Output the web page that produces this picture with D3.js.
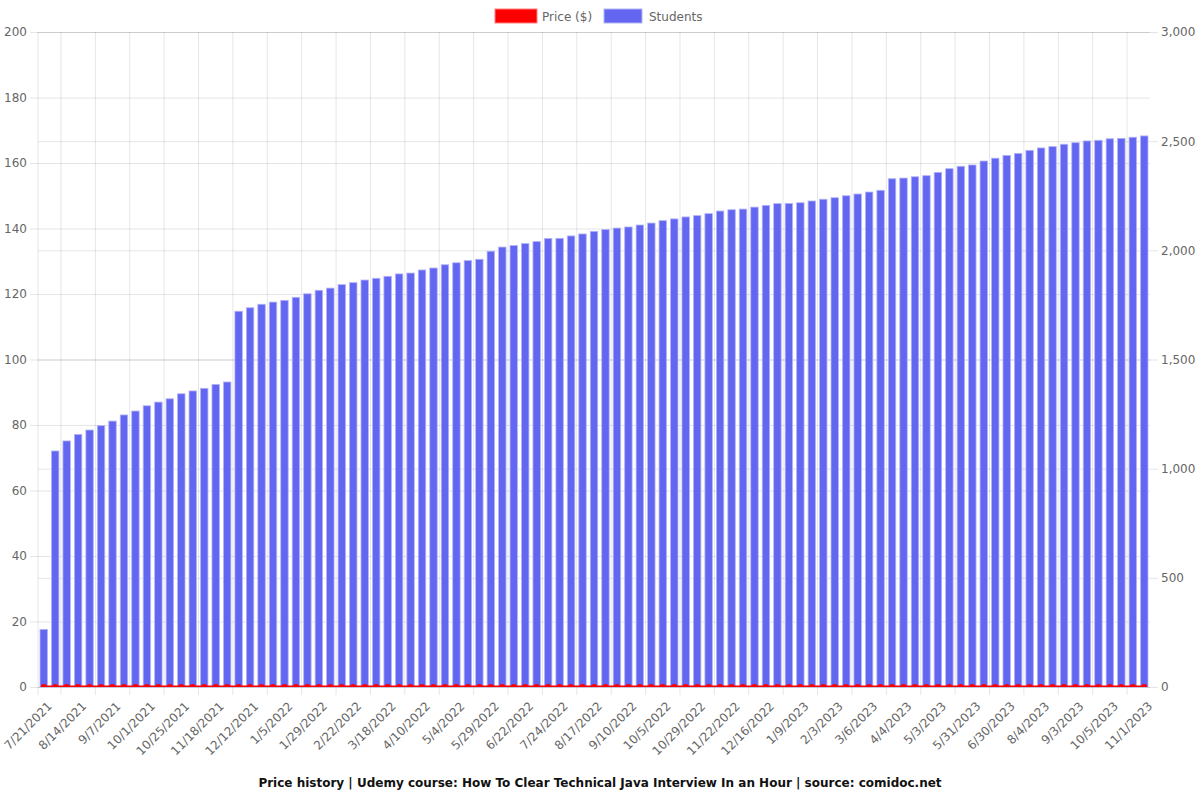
<!DOCTYPE html>
<html>
<head>
<meta charset="utf-8">
<script src="https://cdn.jsdelivr.net/npm/d3@7"></script>
<style>
  body { margin: 0; background: #fff; }
  svg text { font-family: "DejaVu Sans", sans-serif; }
  .axis path { display: none; }
  .axis line { stroke: rgba(0,0,0,0.1); }
  .axis text { fill: #666; font-size: 12px; }
  .grid path { display: none; }
  .grid line { stroke: rgba(0,0,0,0.1); }
</style>
</head>
<body>
<div id="vis"></div>
<script>
// declare constants
const FRAME_WIDTH = 1200;
const FRAME_HEIGHT = 800;
const MARGINS = {left: 38, right: 50, top: 32, bottom: 113};
const VIS_WIDTH = FRAME_WIDTH - MARGINS.left - MARGINS.right;
const VIS_HEIGHT = FRAME_HEIGHT - MARGINS.top - MARGINS.bottom;

// data
const dates = [
  "7/21/2021","7/29/2021","8/6/2021","8/14/2021","8/22/2021","8/30/2021",
  "9/7/2021","9/15/2021","9/23/2021","10/1/2021","10/9/2021","10/17/2021",
  "10/25/2021","11/2/2021","11/10/2021","11/18/2021","11/26/2021","12/4/2021",
  "12/12/2021","12/20/2021","12/28/2021","1/5/2022","1/13/2022","1/21/2022",
  "1/29/2022","2/6/2022","2/14/2022","2/22/2022","3/2/2022","3/10/2022",
  "3/18/2022","3/26/2022","4/3/2022","4/10/2022","4/18/2022","4/26/2022",
  "5/4/2022","5/12/2022","5/20/2022","5/29/2022","6/6/2022","6/14/2022",
  "6/22/2022","7/2/2022","7/13/2022","7/24/2022","8/1/2022","8/9/2022",
  "8/17/2022","8/25/2022","9/2/2022","9/10/2022","9/18/2022","9/27/2022",
  "10/5/2022","10/13/2022","10/21/2022","10/29/2022","11/6/2022","11/14/2022",
  "11/22/2022","11/30/2022","12/8/2022","12/16/2022","12/24/2022","1/1/2023",
  "1/9/2023","1/17/2023","1/26/2023","2/3/2023","2/13/2023","2/24/2023",
  "3/6/2023","3/15/2023","3/25/2023","4/4/2023","4/13/2023","4/23/2023",
  "5/3/2023","5/12/2023","5/21/2023","5/31/2023","6/10/2023","6/20/2023",
  "6/30/2023","7/12/2023","7/24/2023","8/4/2023","8/14/2023","8/24/2023",
  "9/3/2023","9/14/2023","9/25/2023","10/5/2023","10/14/2023","10/23/2023",
  "11/1/2023"
];

const students = [
  264, 1081, 1127, 1157, 1177, 1197, 1218, 1246, 1264, 1288,
  1305, 1320, 1343, 1356, 1368, 1386, 1397, 1721, 1737, 1753,
  1763, 1771, 1785, 1801, 1817, 1827, 1843, 1852, 1864, 1872,
  1881, 1892, 1896, 1910, 1919, 1934, 1943, 1953, 1959, 1996,
  2015, 2022, 2031, 2040, 2054, 2055, 2066, 2075, 2087, 2095,
  2102, 2107, 2116, 2125, 2136, 2144, 2153, 2159, 2168, 2180,
  2186, 2189, 2198, 2206, 2214, 2215, 2218, 2226, 2234, 2241,
  2250, 2258, 2267, 2275, 2328, 2331, 2337, 2342, 2357, 2374,
  2385, 2391, 2409, 2422, 2435, 2444, 2458, 2469, 2475, 2486,
  2493, 2501, 2504, 2511, 2513, 2518, 2524
];

const prices = [
  0,0,0,0,0,0,0,0,0,0, 0,0,0,0,0,0,0,0,0,0,
  0,0,0,0,0,0,0,0,0,0, 0,0,0,0,0,0,0,0,0,0,
  0,0,0,0,0,0,0,0,0,0, 0,0,0,0,0,0,0,0,0,0,
  0,0,0,0,0,0,0,0,0,0, 0,0,0,0,0,0,0,0,0,0,
  0,0,0,0,0,0,0,0,0,0, 0,0,0,0,0,0,0
];

const priceTicks = [0, 20, 40, 60, 80, 100, 120, 140, 160, 180, 200];
const studentTicks = [0, 500, 1000, 1500, 2000, 2500, 3000];
const LABEL_STEP = 3;

const data = dates.map((d, i) => ({date: d, students: students[i], price: prices[i]}));
const shownDates = dates.filter((d, i) => i % LABEL_STEP === 0);

// frame
const SVG = d3.select("#vis")
  .append("svg")
    .attr("width", FRAME_WIDTH)
    .attr("height", FRAME_HEIGHT);

const X_SCALE = d3.scaleBand()
  .domain(dates)
  .range([0, VIS_WIDTH])
  .padding(0);
const BAND = X_SCALE.bandwidth();

const Y_LEFT = d3.scaleLinear().domain([0, 200]).range([VIS_HEIGHT, 0]);
const Y_RIGHT = d3.scaleLinear().domain([0, 3000]).range([VIS_HEIGHT, 0]);

const G = SVG.append("g")
  .attr("transform", "translate(" + MARGINS.left + "," + MARGINS.top + ")");

// horizontal grid for both axes
G.append("g")
  .attr("class", "grid")
  .call(d3.axisLeft(Y_LEFT).tickValues(priceTicks).tickSize(-VIS_WIDTH).tickFormat(""));
G.append("g")
  .attr("class", "grid")
  .call(d3.axisRight(Y_RIGHT).tickValues(studentTicks).tickSize(-VIS_WIDTH).tickFormat(""))
  .attr("transform", "translate(" + VIS_WIDTH + ",0)");

// vertical grid lines sit between shown labels (offset grid)
const gridX = shownDates
  .map((d) => X_SCALE(d) + 2 * BAND)
  .filter((x) => x < VIS_WIDTH - 1);
gridX.unshift(0);
G.append("g")
  .selectAll("line")
  .data(gridX)
  .enter()
  .append("line")
    .attr("x1", (d) => d)
    .attr("x2", (d) => d)
    .attr("y1", 0)
    .attr("y2", VIS_HEIGHT + 8)
    .attr("stroke", "rgba(0,0,0,0.1)");

// left axis
G.append("g")
  .attr("class", "axis")
  .call(d3.axisLeft(Y_LEFT).tickValues(priceTicks).tickSizeInner(8).tickSizeOuter(0).tickPadding(3));

// right axis
G.append("g")
  .attr("class", "axis")
  .attr("transform", "translate(" + VIS_WIDTH + ",0)")
  .call(d3.axisRight(Y_RIGHT).tickValues(studentTicks).tickFormat(d3.format(","))
          .tickSizeInner(8).tickSizeOuter(0).tickPadding(3));

// x axis labels, rotated
const xAxis = G.append("g")
  .attr("class", "axis")
  .attr("transform", "translate(0," + VIS_HEIGHT + ")")
  .call(d3.axisBottom(X_SCALE).tickValues(shownDates).tickSize(0).tickPadding(0));
xAxis.selectAll("text")
  .attr("text-anchor", "end")
  .attr("y", 0)
  .attr("dy", "0.35em")
  .attr("transform", "translate(6,17) rotate(-45)");

// student bars
const BAR_W = BAND * 0.65;
G.append("g")
  .selectAll("rect")
  .data(data)
  .enter()
  .append("rect")
    .attr("x", (d) => X_SCALE(d.date) + (BAND - BAR_W) / 2)
    .attr("y", (d) => Y_RIGHT(d.students))
    .attr("width", BAR_W)
    .attr("height", (d) => VIS_HEIGHT - Y_RIGHT(d.students))
    .attr("fill", "#6366f1")
    .attr("stroke", "#b4b5f6")
    .attr("stroke-width", 0.8);

// price line, clipped to the chart area
SVG.append("clipPath")
  .attr("id", "plotclip")
  .append("rect")
    .attr("x", 0)
    .attr("y", -2)
    .attr("width", VIS_WIDTH)
    .attr("height", VIS_HEIGHT + 2);

const priceG = G.append("g").attr("clip-path", "url(#plotclip)");
priceG.append("path")
  .datum(data)
  .attr("fill", "none")
  .attr("stroke", "red")
  .attr("stroke-width", 3)
  .attr("d", d3.line()
    .x((d) => X_SCALE(d.date) + BAND / 2)
    .y((d) => Y_LEFT(d.price)));
priceG.selectAll("circle")
  .data(data)
  .enter()
  .append("circle")
    .attr("cx", (d) => X_SCALE(d.date) + BAND / 2)
    .attr("cy", (d) => Y_LEFT(d.price))
    .attr("r", 3)
    .attr("fill", "red");

// legend
const legend = SVG.append("g").attr("font-size", 12).attr("fill", "#666");
legend.append("rect")
  .attr("x", 495).attr("y", 9).attr("width", 42).attr("height", 14)
  .attr("fill", "red").attr("stroke", "#ff8080").attr("stroke-width", 1);
legend.append("text")
  .attr("x", 542).attr("y", 20.5).text("Price ($)");
legend.append("rect")
  .attr("x", 604).attr("y", 9).attr("width", 38).attr("height", 14)
  .attr("fill", "#6366f1").attr("stroke", "#b4b5f6").attr("stroke-width", 1);
legend.append("text")
  .attr("x", 649).attr("y", 20.5).text("Students");

// title
SVG.append("text")
  .attr("x", 600)
  .attr("y", 787)
  .attr("text-anchor", "middle")
  .attr("font-size", 12)
  .attr("font-weight", "bold")
  .attr("fill", "#111")
  .text("Price history | Udemy course: How To Clear Technical Java Interview In an Hour | source: comidoc.net");
</script>
</body>
</html>
